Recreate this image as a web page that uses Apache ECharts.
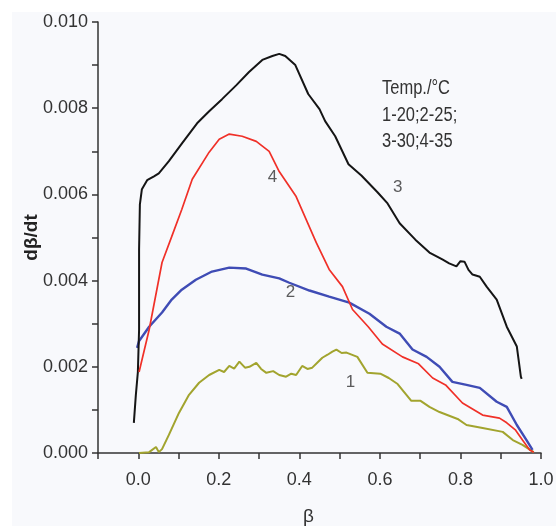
<!DOCTYPE html>
<html>
<head>
<meta charset="utf-8">
<script src="https://cdn.jsdelivr.net/npm/echarts@6/dist/echarts.min.js"></script>
<style>
html,body{margin:0;padding:0;background:#ffffff;}
#chart{position:absolute;left:12px;top:12px;width:544px;height:514px;}
</style>
</head>
<body>
<div id="chart"></div>
<script>
// ---- data ----
const xTickLabels = ['0.0','0.2','0.4','0.6','0.8','1.0'];
const yTickLabels = ['0.000','0.002','0.004','0.006','0.008','0.010'];
const seriesNames = ['1','2','3','4'];
const noteLines = ['Temp./\u00B0C', '1-20;2-25;', '3-30;4-35'];

// curve 1 (20 °C)
const curve1 = [
  [0.002,0.0000],[0.027,0.00002],[0.044,0.00014],[0.051,0.00002],[0.059,0.00009],
  [0.076,0.00042],[0.101,0.00093],[0.126,0.00135],[0.151,0.00163],[0.176,0.00181],
  [0.201,0.00193],[0.213,0.00188],[0.226,0.00202],[0.238,0.00196],[0.251,0.00212],
  [0.265,0.00198],[0.276,0.00200],[0.293,0.00209],[0.305,0.00195],[0.318,0.00186],
  [0.335,0.00190],[0.350,0.00181],[0.367,0.00177],[0.380,0.00184],[0.392,0.00181],
  [0.407,0.00202],[0.420,0.00195],[0.432,0.00198],[0.445,0.00210],[0.457,0.00221],
  [0.470,0.00228],[0.482,0.00235],[0.492,0.00240],[0.505,0.00232],[0.517,0.00233],
  [0.544,0.00223],[0.569,0.00186],[0.601,0.00184],[0.622,0.00174],[0.644,0.00160],
  [0.678,0.00121],[0.701,0.00121],[0.723,0.00107],[0.748,0.00095],[0.793,0.00079],
  [0.815,0.00065],[0.855,0.00058],[0.905,0.00049],[0.930,0.00030],[0.954,0.00019],
  [0.982,0.00002]
];
// curve 2 (25 °C)
const curve2 = [
  [-0.003,0.00244],[0.002,0.00260],[0.027,0.00293],[0.059,0.00326],[0.083,0.00356],
  [0.108,0.00379],[0.143,0.00402],[0.183,0.00421],[0.226,0.00430],[0.268,0.00428],
  [0.308,0.00414],[0.350,0.00405],[0.375,0.00395],[0.425,0.00377],[0.474,0.00363],
  [0.524,0.00349],[0.574,0.00323],[0.616,0.00293],[0.649,0.00277],[0.681,0.00240],
  [0.716,0.00223],[0.748,0.00200],[0.780,0.00165],[0.815,0.00158],[0.848,0.00151],
  [0.890,0.00119],[0.915,0.00107],[0.940,0.00065],[0.964,0.00030],[0.979,0.00007]
];
// curve 3 (30 °C)
const curve3 = [
  [-0.011,0.00070],[-0.006,0.00135],[-0.001,0.00188],[0.002,0.00286],[0.002,0.00472],
  [0.004,0.00577],[0.009,0.00612],[0.022,0.00633],[0.039,0.00642],[0.051,0.00649],
  [0.076,0.00677],[0.109,0.00719],[0.146,0.00765],[0.176,0.00793],[0.208,0.00821],
  [0.243,0.00853],[0.275,0.00884],[0.308,0.00912],[0.333,0.00921],[0.350,0.00926],
  [0.365,0.00921],[0.390,0.00900],[0.422,0.00833],[0.450,0.00798],[0.464,0.00770],
  [0.489,0.00735],[0.522,0.00670],[0.554,0.00644],[0.594,0.00605],[0.619,0.00579],
  [0.649,0.00533],[0.688,0.00495],[0.723,0.00465],[0.755,0.00449],[0.772,0.00440],
  [0.790,0.00433],[0.800,0.00445],[0.810,0.00444],[0.820,0.00425],[0.830,0.00414],
  [0.848,0.00409],[0.865,0.00386],[0.890,0.00356],[0.915,0.00293],[0.940,0.00247],
  [0.950,0.00177],[0.952,0.00172]
];
// curve 4 (35 °C)
const curve4 = [
  [0.002,0.00188],[0.027,0.00286],[0.059,0.00442],[0.083,0.00502],[0.108,0.00565],
  [0.134,0.00635],[0.176,0.00698],[0.201,0.00728],[0.226,0.00740],[0.258,0.00735],
  [0.293,0.00723],[0.325,0.00700],[0.350,0.00653],[0.392,0.00595],[0.442,0.00488],
  [0.474,0.00426],[0.507,0.00386],[0.532,0.00333],[0.571,0.00293],[0.606,0.00253],
  [0.656,0.00223],[0.696,0.00207],[0.731,0.00174],[0.763,0.00158],[0.805,0.00116],
  [0.855,0.00088],[0.897,0.00081],[0.915,0.00070],[0.937,0.00053],[0.954,0.00030],
  [0.972,0.00007],[0.982,0.00002]
];
// curve number labels, placed in data coordinates
const curveLabels = [[0.527,0.00165,'1'],[0.378,0.00372,'2'],[0.644,0.00616,'3'],[0.333,0.00640,'4']];

// ---- chart ----
const FONT = "'Liberation Sans', Arial, sans-serif";
const chart = echarts.init(document.getElementById('chart'));
const axisCol = '#333333';
const curves = [curve1, curve2, curve3, curve4];
const colors = ['#a2a42e', '#3f4cb5', '#151515', '#f03028'];
const widths = [2, 2.4, 2, 1.7];

chart.setOption({
  backgroundColor: '#f8f9fc',
  animation: false,
  grid: {left: 86, right: 15, top: 10, bottom: 73, containLabel: false, outerBoundsMode: 'none'},
  xAxis: {
    type: 'value', min: -0.1, max: 1.0, interval: 0.1,
    axisLine: {show: true, onZero: false, lineStyle: {color: axisCol, width: 1.5}},
    axisTick: {show: true, inside: false, length: 6, lineStyle: {color: axisCol, width: 1.5}},
    splitLine: {show: false},
    axisLabel: {
      margin: 18, color: '#333', fontFamily: FONT, fontSize: 18,
      formatter: v => { const k = Math.round(v * 10); return (k >= 0 && k % 2 === 0) ? xTickLabels[k / 2] : ''; }
    }
  },
  yAxis: {
    type: 'value', min: 0, max: 0.010, interval: 0.001,
    name: 'd\u03B2/dt', nameLocation: 'middle', nameGap: 57, nameRotate: 90, nameMoveOverlap: false,
    nameTextStyle: {fontFamily: FONT, fontWeight: 'bold', fontSize: 19, color: '#222'},
    axisLine: {show: true, onZero: false, lineStyle: {color: axisCol, width: 1.5}},
    axisTick: {show: true, inside: false, length: 6, lineStyle: {color: axisCol, width: 1.5}},
    splitLine: {show: false},
    axisLabel: {
      margin: 10, color: '#333', fontFamily: FONT, fontSize: 18,
      formatter: v => { const k = Math.round(v * 1000); return (k % 2 === 0) ? yTickLabels[k / 2] : ''; }
    }
  },
  graphic: [
    {type: 'text', left: 291, top: 495, style: {text: '\u03B2', fontFamily: FONT, fontSize: 19, fill: '#333'}},
    {type: 'text', x: 370, y: 64, scaleY: 1.2, style: {text: noteLines.join('\n'), fontFamily: FONT, fontSize: 16.5, lineHeight: 21.7, fill: '#333'}}
  ],
  series: curves.map((c, i) => ({
    name: seriesNames[i], type: 'line', data: c, showSymbol: false, smooth: false,
    lineStyle: {color: colors[i], width: widths[i]}, z: 2 + i
  })).concat([{
    type: 'scatter', data: curveLabels, symbolSize: 1, itemStyle: {color: 'rgba(0,0,0,0)'},
    label: {show: true, position: 'inside', formatter: p => p.value[2], fontFamily: FONT, fontSize: 17, color: '#333'},
    z: 10
  }])
});
</script>
</body>
</html>
